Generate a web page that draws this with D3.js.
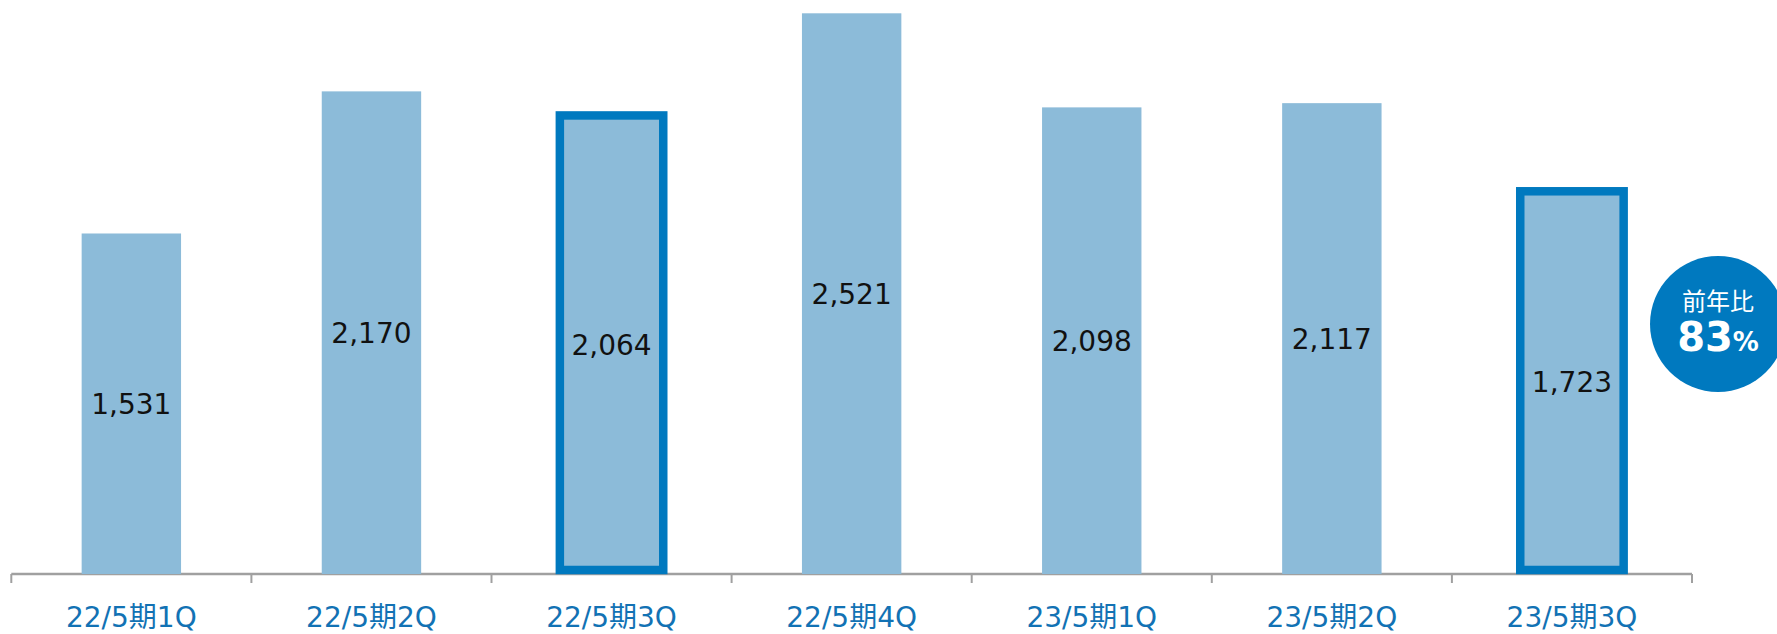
<!DOCTYPE html>
<html>
<head>
<meta charset="utf-8">
<script src="https://cdn.jsdelivr.net/npm/d3@7"></script>
<style>
  html, body { margin: 0; padding: 0; background: #ffffff; }
  svg { display: block; }
</style>
</head>
<body>
<svg id="chart" width="1777" height="634"></svg>
<script>
// ---- data ----
const categories = ["22/5期1Q", "22/5期2Q", "22/5期3Q", "22/5期4Q", "23/5期1Q", "23/5期2Q", "23/5期3Q"];
const values = [1531, 2170, 2064, 2521, 2098, 2117, 1723];
const highlighted = ["22/5期3Q", "23/5期3Q"];
const badgeTitle = "前年比";
const badgeValue = "83";
const badgeUnit = "%";

// ---- layout ----
const baseY = 574;
const svg = d3.select("#chart");

const x = d3.scaleBand().domain(categories).range([11.3, 1692]).padding(0);
const y = d3.scaleLinear().domain([0, 2521]).range([baseY, 13.3]);
const barW = x.bandwidth() * 0.414;

const fill = "#8cbbd9";
const strong = "#0079bf";
const labelBlue = "#1272b4";
const fontLatin = "'DejaVu Sans', 'Noto Sans CJK JP', sans-serif";

// axis line and ticks (band edges)
const edges = categories.map(c => x(c)).concat([x.range()[1]]);
svg.append("line")
  .attr("x1", x.range()[0]).attr("x2", x.range()[1])
  .attr("y1", baseY).attr("y2", baseY)
  .attr("stroke", "#a0a0a0").attr("stroke-width", 2.4);
svg.selectAll("line.tick").data(edges).join("line")
  .attr("class", "tick")
  .attr("x1", d => d).attr("x2", d => d)
  .attr("y1", baseY).attr("y2", baseY + 9)
  .attr("stroke", "#a0a0a0").attr("stroke-width", 2);

// bars
const data = categories.map((c, i) => ({ c, v: values[i], hi: highlighted.includes(c) }));
const cx = d => x(d.c) + x.bandwidth() / 2;

svg.selectAll("rect.bar").data(data.filter(d => !d.hi)).join("rect")
  .attr("class", "bar")
  .attr("x", d => cx(d) - barW / 2)
  .attr("width", barW)
  .attr("y", d => y(d.v))
  .attr("height", d => baseY - y(d.v))
  .attr("fill", fill);

const hw = barW + 4, sw = 8.5;
svg.selectAll("rect.hbar").data(data.filter(d => d.hi)).join("rect")
  .attr("class", "hbar")
  .attr("x", d => cx(d) - hw / 2)
  .attr("width", hw)
  .attr("y", d => y(d.v) + 0.5)
  .attr("height", d => (baseY - 4) - (y(d.v) + 0.5))
  .attr("fill", fill)
  .attr("stroke", strong)
  .attr("stroke-width", sw);

// value labels (centered in bar)
svg.selectAll("text.val").data(data).join("text")
  .attr("class", "val")
  .attr("x", d => cx(d))
  .attr("y", d => (y(d.v) + baseY) / 2)
  .attr("dy", "0.36em")
  .attr("text-anchor", "middle")
  .attr("font-family", fontLatin)
  .attr("font-size", 28)
  .attr("fill", "#111111")
  .text(d => d3.format(",")(d.v));

// category labels
svg.selectAll("text.cat").data(categories).join("text")
  .attr("class", "cat")
  .attr("x", d => x(d) + x.bandwidth() / 2)
  .attr("y", 627)
  .attr("text-anchor", "middle")
  .attr("font-family", fontLatin)
  .attr("font-size", 28)
  .attr("fill", labelBlue)
  .text(d => d);

// badge
const bx = 1718, by = 324;
svg.append("circle").attr("cx", bx).attr("cy", by).attr("r", 68).attr("fill", strong);
svg.append("text")
  .attr("x", bx).attr("y", 310)
  .attr("text-anchor", "middle")
  .attr("font-family", "'Noto Sans CJK JP', sans-serif")
  .attr("font-size", 24)
  .attr("fill", "#ffffff")
  .text(badgeTitle);
const bt = svg.append("text")
  .attr("x", bx).attr("y", 351)
  .attr("text-anchor", "middle")
  .attr("font-family", "'DejaVu Sans', sans-serif")
  .attr("font-weight", "bold")
  .attr("fill", "#ffffff");
bt.append("tspan").attr("font-size", 40).text(badgeValue);
bt.append("tspan").attr("font-size", 26).text(badgeUnit);
</script>
</body>
</html>
